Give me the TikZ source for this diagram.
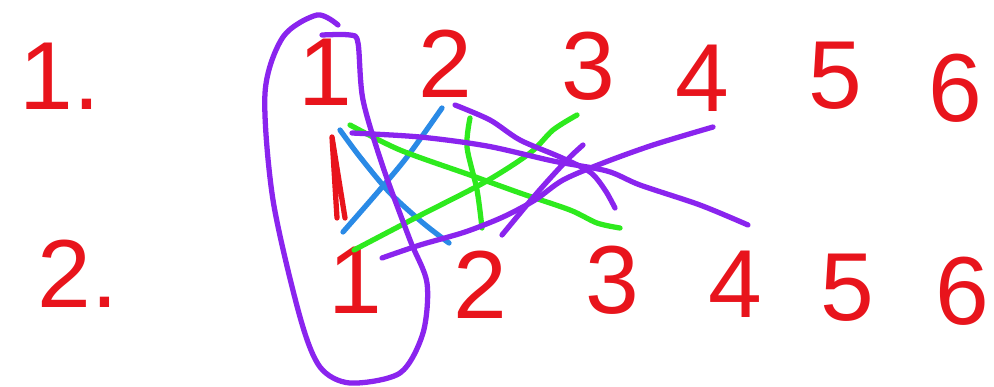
\documentclass[tikz,border=0pt]{standalone}
\usepackage{fontspec}
\setmainfont{Liberation Sans}
\definecolor{sketchInk}{HTML}{E8141C}
\definecolor{sketchBlue}{HTML}{2A8AE6}
\definecolor{sketchGreen}{HTML}{2EEA1E}
\definecolor{sketchPurple}{HTML}{8A24EE}

\begin{document}
\begin{tikzpicture}[
    x=0.02cm,y=-0.02cm,
    every node/.style={text=sketchInk,inner sep=0pt,font=\fontsize{55}{60}\selectfont},
    pen/.style={line width=3pt,line cap=round,line join=round},
    redpen/.style={pen,draw=sketchInk},
    bluepen/.style={pen,draw=sketchBlue},
    greenpen/.style={pen,draw=sketchGreen},
    purplepen/.style={pen,draw=sketchPurple}
]
\useasboundingbox (0,0) rectangle (994,386);

\node (rowone) at (60,76) {1.};
\node (rowtwo) at (78,274) {2.};

\node (top1) at (325,72) {1};
\node (top2) at (445,64) {2};
\node (top3) at (588,66) {3};
\node (top4) at (702,78) {4};
\node (top5) at (835,76) {5};
\node (top6) at (955,88) {6};

\node (bot1) at (355,280) {1};
\node (bot2) at (480,285) {2};
\node (bot3) at (612,280) {3};
\node (bot4) at (735,284) {4};
\node (bot5) at (847,288) {5};
\node (bot6) at (962,291) {6};

\draw[redpen] (337,218) -- (332,137) -- (345,218);

\draw[bluepen] plot[smooth] coordinates {(340,130) (360,157) (390,193) (423,223) (449,243)};
\draw[bluepen] plot[smooth] coordinates {(343,232) (377,193) (407,157) (442,108)};

\draw[greenpen] plot[smooth] coordinates {(350,125) (400,150) (470,175) (520,193) (570,210) (597,223) (620,228)};
\draw[greenpen] plot[smooth] coordinates {(354,250) (417,217) (485,182) (530,153) (553,130) (577,115)};
\draw[greenpen] plot[smooth] coordinates {(470,118) (467,147) (477,190) (482,228)};

\draw[purplepen] plot[smooth] coordinates {(352,133) (420,137) (487,146) (553,161) (607,171) (640,185) (700,205) (748,225)};
\draw[purplepen] plot[smooth] coordinates {(382,258) (420,245) (465,232) (503,217) (535,200) (563,180) (603,163) (653,145) (713,127)};
\draw[purplepen] plot[smooth] coordinates {(455,105) (490,120) (520,140) (560,157) (590,172) (605,190) (615,208)};
\draw[purplepen] plot[smooth] coordinates {(502,235) (537,193) (567,160) (583,145)};

% loop round the first column
\draw[purplepen] plot[smooth] coordinates {(338,25) (317,15) (283,37) (265,93) (273,200) (300,317) (320,367) (350,383) (400,373) (423,333) (427,283) (410,240) (383,167) (363,100) (358,43) (350,35) (322,35)};
\end{tikzpicture}
\end{document}
